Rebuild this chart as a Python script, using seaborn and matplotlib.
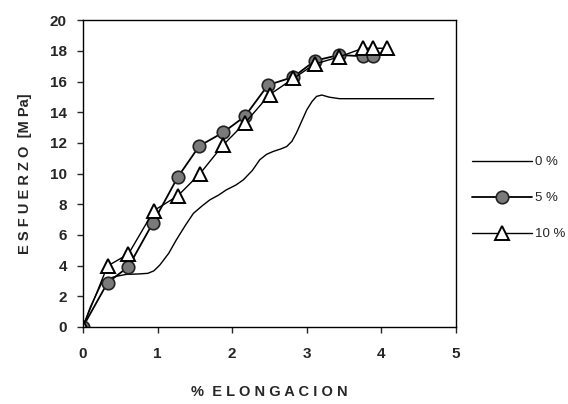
import matplotlib
matplotlib.use("Agg")
import matplotlib.pyplot as plt
import seaborn as sns
import pandas as pd

# 0 % curve (continuous line, no markers)
x0 = [0.0, 0.10, 0.27, 0.45, 0.58, 0.75, 0.87, 0.95, 1.03, 1.15, 1.25, 1.37, 1.48, 1.60, 1.70,
      1.82, 1.92, 2.05, 2.15, 2.27, 2.37, 2.46, 2.55, 2.65, 2.73, 2.80, 2.86, 2.93, 3.00,
      3.07, 3.13, 3.20, 3.30, 3.44, 4.00, 4.70]
y0 = [0.0, 1.3, 3.05, 3.3, 3.42, 3.45, 3.49, 3.65, 4.03, 4.8, 5.66, 6.6, 7.4, 7.9, 8.28,
      8.6, 8.93, 9.25, 9.59, 10.2, 10.9, 11.25, 11.44, 11.6, 11.76, 12.1, 12.64, 13.4, 14.16,
      14.7, 15.03, 15.12, 14.98, 14.88, 14.88, 14.88]

# 5 % series (circles)
x5 = [0.0, 0.33, 0.61, 0.94, 1.27, 1.56, 1.88, 2.17, 2.48, 2.82, 3.11, 3.43, 3.75, 3.89]
y5 = [0.0, 2.88, 3.92, 6.8, 9.76, 11.8, 12.68, 13.73, 15.77, 16.3, 17.36, 17.73, 17.65, 17.65]

# 10 % series (triangles)
x10 = [0.0, 0.33, 0.61, 0.95, 1.27, 1.57, 1.88, 2.17, 2.50, 2.82, 3.11, 3.43, 3.75, 3.89, 4.07]
y10 = [0.0, 3.97, 4.75, 7.58, 8.54, 10.0, 11.87, 13.29, 15.14, 16.2, 17.15, 17.6, 18.17, 18.17, 18.17]

labels = ["0 %", "5 %", "10 %"]
x_ticks = [0, 1, 2, 3, 4, 5]
y_ticks = [0, 2, 4, 6, 8, 10, 12, 14, 16, 18, 20]

sns.set_theme(style="ticks")
plt.rcParams['font.family'] = ['Liberation Sans', 'DejaVu Sans']

fig = plt.figure(figsize=(5.68, 4.04), dpi=100)
ax = fig.add_axes([0.146, 0.191, 0.657, 0.759])

df0 = pd.DataFrame({"x": x0, "y": y0})
df5 = pd.DataFrame({"x": x5, "y": y5})
df10 = pd.DataFrame({"x": x10, "y": y10})

sns.lineplot(data=df0, x="x", y="y", ax=ax, color="black", linewidth=1.0,
             label=labels[0], sort=False, estimator=None)
sns.lineplot(data=df5, x="x", y="y", ax=ax, color="black", linewidth=1.3,
             marker="o", markersize=9, markerfacecolor="#7a7a7a",
             markeredgecolor="#222222", markeredgewidth=1.2,
             label=labels[1], sort=False, estimator=None)
sns.lineplot(data=df10, x="x", y="y", ax=ax, color="black", linewidth=1.0,
             marker="^", markersize=9.5, markerfacecolor="white",
             markeredgecolor="black", markeredgewidth=1.4,
             label=labels[2], sort=False, estimator=None)

ax.set_xlim(0, 5)
ax.set_ylim(0, 20)
ax.set_xticks(x_ticks)
ax.set_yticks(y_ticks)
ax.tick_params(direction="out", length=4.5, width=1, labelsize=11)
ax.tick_params(axis="x", pad=10)
ax.tick_params(axis="y", pad=7)
for lab in ax.get_xticklabels() + ax.get_yticklabels():
    lab.set_fontweight("bold")
for s in ax.spines.values():
    s.set_visible(True)
    s.set_linewidth(1.0)
    s.set_color("black")
ax.set_facecolor("white")

ax.set_xlabel("%  E L O N G A C I O N", fontsize=10.5, fontweight="bold", labelpad=17)
ax.set_ylabel("E S F U E R Z O  [M Pa]", fontsize=10.5, fontweight="bold", labelpad=13)

leg = ax.legend(loc="upper left", bbox_to_anchor=(1.01, 0.595), frameon=False,
                handlelength=4.6, labelspacing=1.8, fontsize=9.5, handletextpad=0.2)

fig.savefig("out.png", dpi=100)
